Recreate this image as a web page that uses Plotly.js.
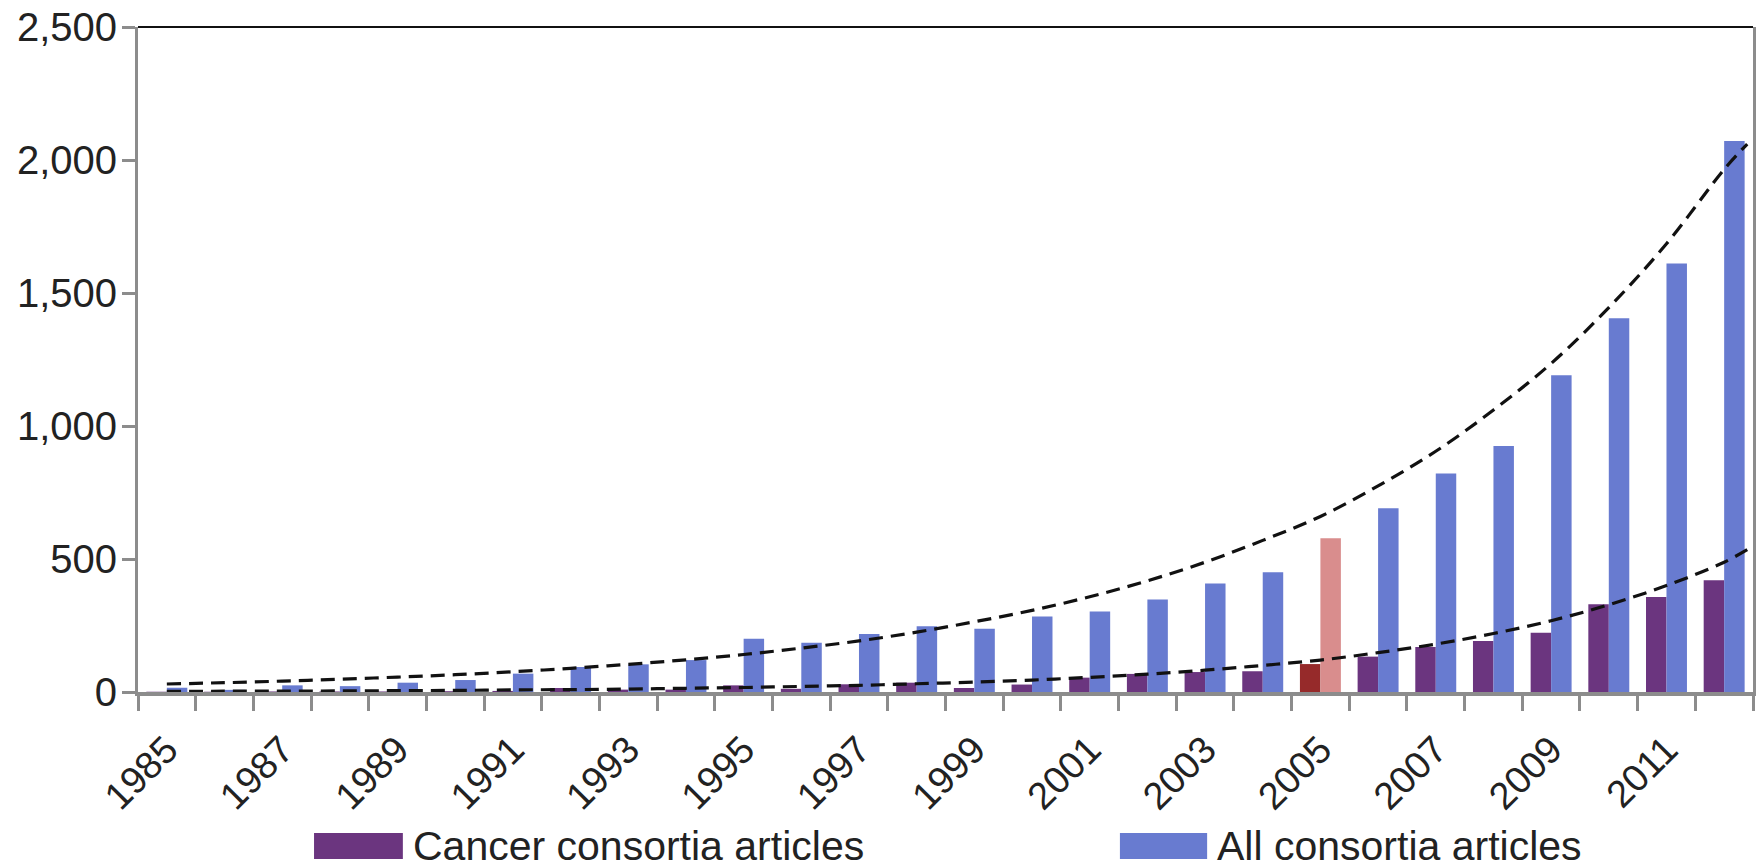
<!DOCTYPE html>
<html>
<head>
<meta charset="utf-8">
<script src="https://cdn.plot.ly/plotly-3.0.1.min.js"></script>
<style>html,body{margin:0;padding:0;background:#fff;}#chart{width:1763px;height:868px;}</style>
</head>
<body>
<div id="chart"></div>
<script>
var years = [1985,1986,1987,1988,1989,1990,1991,1992,1993,1994,1995,1996,1997,1998,1999,2000,2001,2002,2003,2004,2005,2006,2007,2008,2009,2010,2011,2012];
var cancerArticles = [1,1,2,2,2,3,4,15,9,9,25,12,29,35,15,28,54,68,75,78,105,133,169,192,223,330,357,420];
var allArticles = [16,8,25,22,35,45,69,94,104,120,200,185,218,247,238,284,303,348,408,450,578,691,821,925,1191,1405,1611,2071];
// dashed trend curves at each year plus the line's end point (2012.4)
var trendYears = [1985,1986,1987,1988,1989,1990,1991,1992,1993,1994,1995,1996,1997,1998,1999,2000,2001,2002,2003,2004,2005,2006,2007,2008,2009,2010,2011,2012,2012.4];
var trendAll = [30,35,41,48,56,65,76,89,104,121,141,165,192,225,264,307,358,418,488,570,660,775,905,1060,1235,1445,1685,1965,2060];
var trendCancer = [2,3,3,4,5,6,8,9,11,14,17,21,25,31,37,45,55,67,82,100,120,148,180,220,268,328,400,488,535];
var tickYears = [1985,1987,1989,1991,1993,1995,1997,1999,2001,2003,2005,2007,2009,2011];
var highlightYear = 2005;
var seriesNames = ['Cancer consortia articles','All consortia articles'];

var purple = '#6b357f', blue = '#687bd0', darkRed = '#962a2a', pink = '#d98d8d';

var traces = [
  {type:'bar', name: seriesNames[0], x: years, y: cancerArticles,
   marker:{color: years.map(function(y){return y===highlightYear?darkRed:purple;})}},
  {type:'bar', name: seriesNames[1], x: years, y: allArticles,
   marker:{color: years.map(function(y){return y===highlightYear?pink:blue;})}},
  {type:'scatter', mode:'lines', x: trendYears, y: trendAll, showlegend:false,
   line:{color:'#111', width:3.2, dash:'14px,8px', shape:'spline'}, hoverinfo:'skip'},
  {type:'scatter', mode:'lines', x: trendYears, y: trendCancer, showlegend:false,
   line:{color:'#111', width:3.2, dash:'14px,8px', shape:'spline'}, hoverinfo:'skip'}
];

var font = 'Liberation Sans, Arial, Helvetica, sans-serif';
var layout = {
  width:1763, height:868,
  margin:{l:138, r:10, t:27, b:176},
  paper_bgcolor:'#fff', plot_bgcolor:'#fff',
  barmode:'group', bargap:0.29, bargroupgap:0,
  showlegend:false,
  font:{family:font, size:36, color:'#222'},
  xaxis:{
    type:'linear', range:[years[0]-0.5, years[years.length-1]+0.5],
    tickvals: tickYears, ticktext: tickYears.map(String),
    tickangle:-45, ticks:'', showgrid:false, zeroline:false,
    showline:true, linecolor:'#8c8c8c', linewidth:4, mirror:false,
    tickfont:{family:font, size:38, color:'#222'},
    ticklabelstandoff: 16,
    minor:{ticks:'outside', tick0: years[0]-0.5, dtick:1, ticklen:15, tickwidth:3, tickcolor:'#8c8c8c', showgrid:false}
  },
  yaxis:{
    range:[0,2500], tickvals:[0,500,1000,1500,2000,2500],
    tickformat:',d', ticks:'outside', ticklen:13, tickwidth:3, tickcolor:'#8c8c8c',
    showgrid:false, zeroline:false, showline:true, linecolor:'#8c8c8c', linewidth:3, mirror:true,
    tickfont:{family:font, size:40, color:'#222'}, ticklabelstandoff: -3
  },
  shapes:[
    {type:'line', xref:'paper', yref:'paper', x0:0, x1:1, y0:1, y1:1, line:{color:'#111', width:2}},
    {type:'rect', xref:'paper', yref:'paper', x0:0.109, x1:0.164, y0:-0.251, y1:-0.212, fillcolor:purple, line:{width:0}},
    {type:'rect', xref:'paper', yref:'paper', x0:0.608, x1:0.662, y0:-0.251, y1:-0.212, fillcolor:blue, line:{width:0}}
  ],
  annotations:[
    {xref:'paper', yref:'paper', x:0.169, y:-0.2316, xanchor:'left', yanchor:'middle', showarrow:false,
     text: seriesNames[0], font:{family:font, size:41, color:'#222'}},
    {xref:'paper', yref:'paper', x:0.667, y:-0.2316, xanchor:'left', yanchor:'middle', showarrow:false,
     text: seriesNames[1], font:{family:font, size:41, color:'#222'}}
  ]
};
Plotly.newPlot('chart', traces, layout, {displayModeBar:false, staticPlot:true});
</script>
</body>
</html>
